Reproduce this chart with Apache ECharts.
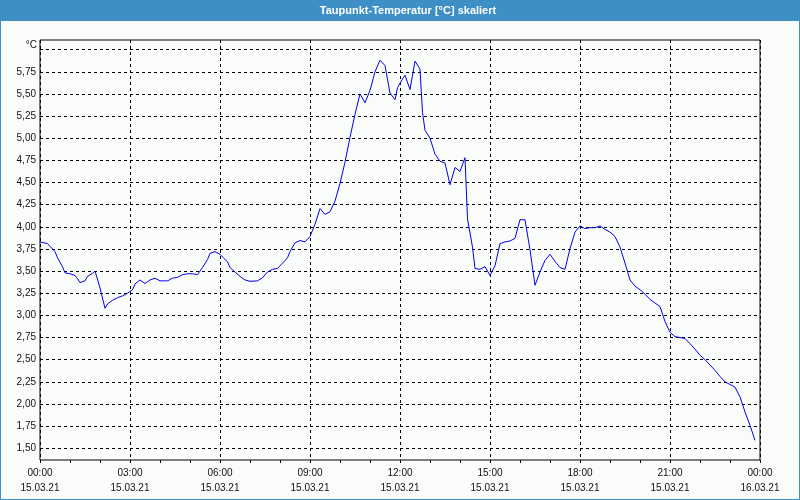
<!DOCTYPE html>
<html>
<head>
<meta charset="utf-8">
<script src="https://cdn.jsdelivr.net/npm/echarts@6/dist/echarts.min.js"></script>
<style>
html,body{margin:0;padding:0;background:#fafcfa;}
#chart{width:800px;height:500px;}
</style>
</head>
<body>
<div id="chart"></div>
<script>
// Minutes since 15.03.21 00:00
const timeMinutes = [0,15,20,30,35,45,50,60,70,75,80,90,95,105,110,120,130,135,145,155,165,175,185,190,200,210,220,230,240,255,265,275,285,295,305,315,325,335,340,350,360,365,375,380,390,400,410,420,435,445,455,465,475,485,495,500,510,520,530,540,550,560,570,580,590,600,610,620,630,640,650,660,670,680,690,700,710,715,725,730,740,750,760,765,770,780,790,800,810,820,830,840,850,855,865,870,880,890,900,910,920,930,940,950,960,970,980,990,1000,1010,1020,1030,1040,1050,1060,1070,1080,1090,1100,1110,1120,1130,1140,1150,1160,1170,1180,1190,1200,1210,1220,1230,1240,1250,1260,1270,1280,1290,1300,1310,1320,1330,1340,1350,1360,1370,1380,1390,1400,1410,1420,1430];
// Dew point temperature, °C
const dewPoint = [3.83,3.81,3.78,3.72,3.65,3.55,3.48,3.47,3.45,3.415,3.37,3.39,3.44,3.475,3.50,3.31,3.08,3.13,3.17,3.20,3.22,3.25,3.29,3.355,3.40,3.36,3.40,3.42,3.39,3.39,3.42,3.43,3.46,3.47,3.47,3.46,3.54,3.63,3.70,3.72,3.69,3.66,3.605,3.54,3.49,3.44,3.40,3.385,3.39,3.425,3.49,3.52,3.53,3.59,3.65,3.72,3.82,3.845,3.83,3.89,4.03,4.205,4.14,4.17,4.29,4.49,4.73,5.01,5.27,5.50,5.40,5.54,5.75,5.88,5.82,5.51,5.435,5.57,5.67,5.71,5.55,5.87,5.78,5.29,5.09,5.00,4.82,4.74,4.72,4.475,4.67,4.625,4.78,4.09,3.77,3.53,3.52,3.55,3.45,3.56,3.81,3.83,3.84,3.87,4.08,4.08,3.74,3.34,3.49,3.62,3.69,3.61,3.54,3.52,3.755,3.94,4.01,3.98,3.99,3.99,4.01,3.97,3.94,3.89,3.77,3.59,3.40,3.33,3.29,3.24,3.18,3.14,3.10,2.93,2.81,2.76,2.75,2.74,2.68,2.62,2.55,2.50,2.44,2.38,2.31,2.25,2.22,2.19,2.08,1.91,1.76,1.59];
const xTimeLabels = ['00:00','03:00','06:00','09:00','12:00','15:00','18:00','21:00','00:00'];
const xDateLabels = ['15.03.21','15.03.21','15.03.21','15.03.21','15.03.21','15.03.21','15.03.21','15.03.21','16.03.21'];
const titleText = 'Taupunkt-Temperatur [°C] skaliert';
const unitText = '°C';

const FONT = '"Liberation Sans", Arial, sans-serif';
const chart = echarts.init(document.getElementById('chart'), null, {renderer:'canvas'});
const seriesData = timeMinutes.map((t,i)=>[t, dewPoint[i]]);

chart.setOption({
  animation:false,
  backgroundColor:'#fafcfa',
  graphic:[
    {type:'rect', z:0, shape:{x:0,y:0,width:800,height:21}, style:{fill:'#3d8fc6'}},
    {type:'rect', z:0, shape:{x:0,y:0,width:800,height:500}, style:{fill:null, stroke:'#3d8fc6', lineWidth:2}},
    {type:'text', z:10, style:{text:titleText, x:408, y:10.5, align:'center', verticalAlign:'middle', fill:'#ffffff', font:'bold 11px '+FONT}},
    {type:'text', z:10, style:{text:unitText, x:37, y:45, align:'right', verticalAlign:'middle', fill:'#111111', font:'10px '+FONT}}
  ],
  grid:[
    {left:40, right:40, top:40, bottom:40, show:true, borderColor:'#000', borderWidth:1, backgroundColor:'#fafcfa'},
    {left:40, right:40, top:49.6, bottom:51.7, show:false}
  ],
  xAxis:[
    {type:'value', gridIndex:0, min:0, max:1440, interval:180,
     axisLine:{show:false},
     axisTick:{show:true, length:3, lineStyle:{color:'#000'}},
     minorTick:{show:true, splitNumber:3, length:3, lineStyle:{color:'#000'}},
     splitLine:{show:true, lineStyle:{color:'#000', type:[3,3], width:1}},
     axisLabel:{margin:6, lineHeight:15, fontSize:10, fontFamily:FONT, color:'#111',
       showMinLabel:true, showMaxLabel:true,
       formatter:function(v){const i=Math.round(v/180);return xTimeLabels[i]+'\n'+xDateLabels[i];}}
    },
    {type:'value', gridIndex:1, min:0, max:1440, show:false}
  ],
  yAxis:[
    {type:'value', gridIndex:0, min:0, max:1, show:false, splitLine:{show:false}},
    {type:'value', gridIndex:1, min:1.5, max:6.0, interval:0.25,
     axisLine:{show:false}, axisTick:{show:false},
     splitLine:{show:true, lineStyle:{color:'#000', type:[3,3], width:1}},
     axisLabel:{margin:4, fontSize:10, fontFamily:FONT, color:'#111',
       formatter:function(v){return Math.abs(v-6)<1e-9?'':v.toFixed(2).replace('.',',');}}
    }
  ],
  series:[{
    type:'line', xAxisIndex:1, yAxisIndex:1, data:seriesData,
    showSymbol:false, symbol:'none',
    lineStyle:{color:'#0000ee', width:1},
    z:5
  }]
});
</script>
</body>
</html>
